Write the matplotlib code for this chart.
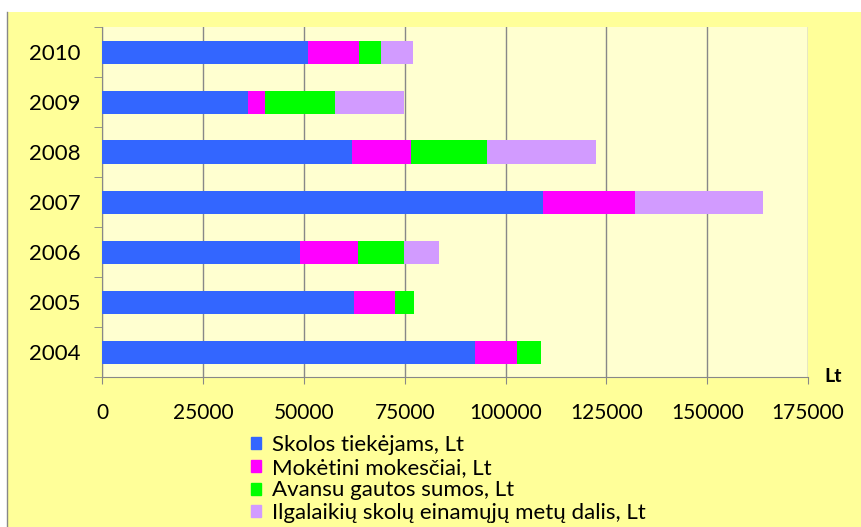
import matplotlib.pyplot as plt
import matplotlib.patches as mpatches
import numpy as np

plt.rcParams['font.family'] = ['Lato', 'DejaVu Sans']

years = ['2004', '2005', '2006', '2007', '2008', '2009', '2010']
skolos = [92400, 62300, 48900, 109300, 61800, 36000, 51000]
mokesciai = [10400, 10200, 14400, 22800, 14700, 4300, 12700]
avansu = [6000, 4700, 11400, 0, 18900, 17400, 5500]
ilgalaikiu = [0, 0, 8800, 31700, 27000, 17200, 7900]

series_names = ['Skolos tiekėjams, Lt', 'Mokėtini mokesčiai, Lt',
                'Avansu gautos sumos, Lt', 'Ilgalaikių skolų einamųjų metų dalis, Lt']
colors = ['#3366FF', '#FF00FF', '#00FF00', '#D29BFF']
xticks = [0, 25000, 50000, 75000, 100000, 125000, 150000, 175000]

W, H = 862, 527
fig = plt.figure(figsize=(W / 100, H / 100), dpi=100, facecolor='white')

# chart area background
fig.patches.append(mpatches.Rectangle((7 / W, 0), 1 - 7 / W, 1 - 12 / H,
                                      transform=fig.transFigure, facecolor='#FFFF99',
                                      edgecolor='none', zorder=-2))
fig.lines.append(plt.Line2D([7 / W, 7 / W], [0, 1 - 12 / H], transform=fig.transFigure,
                            color='#888888', lw=1, zorder=-1))

ax = fig.add_axes([102.5 / W, 1 - 377 / H, (808 - 102.5) / W, (377 - 27) / H])
ax.set_facecolor('#FFFFD0')

y = np.arange(len(years))
left = np.zeros(len(years))
for vals, name, c in zip([skolos, mokesciai, avansu, ilgalaikiu], series_names, colors):
    ax.barh(y, vals, left=left, height=0.46, color=c, label=name, zorder=3)
    left += np.array(vals)

ax.set_xlim(0, 175000)
ax.set_ylim(-0.5, len(years) - 0.5)
ax.set_xticks(xticks)
ax.set_xticklabels([str(v) for v in xticks], fontsize=15)
ax.set_yticks(y)
ax.set_yticklabels(years, fontsize=16)
ax.set_yticks(np.arange(-0.5, len(years)), minor=True)
ax.tick_params(axis='y', which='major', length=0, pad=16)
ax.tick_params(axis='y', which='minor', length=6, color='#888888', direction='out')
ax.tick_params(axis='x', length=5, color='#888888', pad=14)
ax.grid(axis='x', color='#888888', lw=1, zorder=1)
for s in ['top', 'right']:
    ax.spines[s].set_visible(False)
for s in ['left', 'bottom']:
    ax.spines[s].set_color('#888888')

ax.text(1.036, 0.0, 'Lt', transform=ax.transAxes, fontsize=14, fontweight='bold',
        ha='center', va='center')

handles = [mpatches.Patch(color=c) for c in colors]
fig.legend(handles, series_names, loc='upper left', bbox_to_anchor=(240 / W, 1 - 424 / H),
           frameon=False, fontsize=16, handlelength=0.45, handleheight=0.45,
           handletextpad=0.5, labelspacing=0.12, borderpad=0)

fig.savefig('out.png', dpi=100, facecolor='white')
